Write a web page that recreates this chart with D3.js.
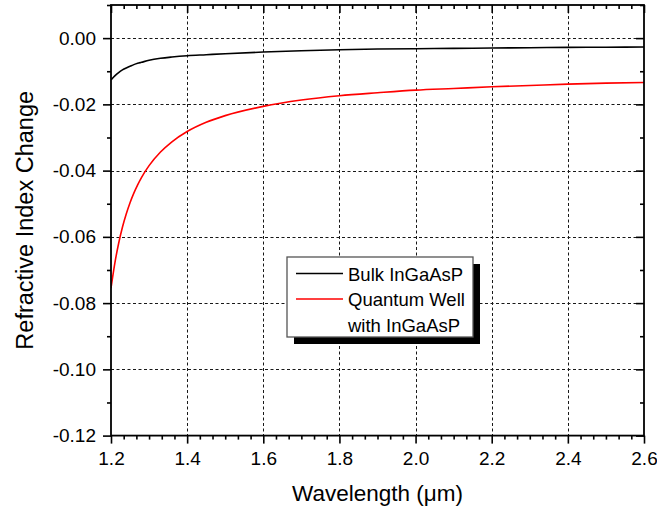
<!DOCTYPE html>
<html>
<head>
<meta charset="utf-8">
<script src="https://cdn.jsdelivr.net/npm/d3@7"></script>
<style>
  html, body { margin: 0; padding: 0; background: #fff; }
  svg { display: block; }
  text { font-family: Arial, "Liberation Sans", Helvetica, sans-serif; fill: #000; }
</style>
</head>
<body>
<svg id="chart" width="657" height="511"></svg>
<script>
// ---- data ----
const wavelength = [1.20, 1.21, 1.22, 1.23, 1.24, 1.25, 1.26, 1.27, 1.28, 1.30, 1.33, 1.36, 1.40, 1.45, 1.50, 1.60, 1.70, 1.80, 1.90, 2.00, 2.10, 2.20, 2.30, 2.40, 2.50, 2.60];
const bulkInGaAsP = [-0.0126, -0.0114, -0.0104, -0.0096, -0.0090, -0.0085, -0.0080, -0.0076, -0.0073, -0.0067, -0.0061, -0.0057, -0.0053, -0.0050, -0.0047, -0.0042, -0.0038, -0.0035, -0.0033, -0.0032, -0.0031, -0.0030, -0.0029, -0.0028, -0.00275, -0.0027];
const quantumWell = [-0.0755, -0.0680, -0.0620, -0.0571, -0.0531, -0.0497, -0.0468, -0.0443, -0.0421, -0.0385, -0.0344, -0.0313, -0.0282, -0.0254, -0.0234, -0.0206, -0.0187, -0.0174, -0.0165, -0.0157, -0.0152, -0.0147, -0.0143, -0.0139, -0.0136, -0.0134];
const xTicks = [1.2, 1.4, 1.6, 1.8, 2.0, 2.2, 2.4, 2.6];
const yTicks = [0.00, -0.02, -0.04, -0.06, -0.08, -0.10, -0.12];
const xDomain = [1.2, 2.6];
const yDomain = [-0.12, 0.01];
const seriesNames = ["Bulk InGaAsP", "Quantum Well", "with InGaAsP"];
const seriesColors = ["#000000", "#ff0000"];
const xTitle = "Wavelength (\u03bcm)";
const yTitle = "Refractive Index Change";

// ---- layout ----
const L = 111, T = 5, R = 644, B = 435.6;
const svg = d3.select("#chart");
const x = d3.scaleLinear().domain(xDomain).range([L, R]);
const y = d3.scaleLinear().domain(yDomain).range([B, T]);

const xMinor = d3.range(0, 43).map(i => xDomain[0] + i * 0.2 / 6)
  .filter(v => !xTicks.some(t => Math.abs(t - v) < 1e-6));
const yMinor = d3.range(0, 14).map(i => -0.12 + i * 0.01)
  .filter(v => !yTicks.some(t => Math.abs(t - v) < 1e-6) && v <= 0.0100001);

// gridlines
const grid = svg.append("g").attr("stroke", "#000").attr("stroke-width", 1)
  .attr("stroke-dasharray", "3,2.5").attr("opacity", 0.9);
grid.selectAll("line.vx").data(xTicks.filter(v => v > xDomain[0] && v < xDomain[1]))
  .join("line").attr("x1", d => Math.round(x(d)) + 0.5).attr("x2", d => Math.round(x(d)) + 0.5)
  .attr("y1", T).attr("y2", B);
grid.selectAll("line.hy").data(yTicks.filter(v => v > yDomain[0] && v < yDomain[1]))
  .join("line").attr("y1", d => Math.round(y(d)) + 0.5).attr("y2", d => Math.round(y(d)) + 0.5)
  .attr("x1", L).attr("x2", R);

// curves
svg.append("clipPath").attr("id", "clip").append("rect")
  .attr("x", L).attr("y", T).attr("width", R - L).attr("height", B - T);
const line = d3.line().x(d => x(d[0])).y(d => y(d[1])).curve(d3.curveMonotoneX);
[bulkInGaAsP, quantumWell].forEach((vals, i) => {
  svg.append("path")
    .attr("clip-path", "url(#clip)")
    .datum(wavelength.map((w, j) => [w, vals[j]]))
    .attr("fill", "none").attr("stroke", seriesColors[i]).attr("stroke-width", 1.6)
    .attr("d", line);
});

// axes
function styleAxis(g) {
  g.select(".domain").remove();
  g.selectAll(".tick line").attr("stroke", "#000").attr("stroke-width", 1.6);
  g.selectAll(".tick text").attr("font-size", 19).attr("fill", "#000");
}
const fmtX = d => d.toFixed(1);
const fmtY = d => d.toFixed(2);

svg.append("g").attr("transform", `translate(0,${B})`)
  .call(d3.axisBottom(x).tickValues(xTicks).tickSize(8).tickPadding(8).tickFormat(fmtX)).call(styleAxis);
svg.append("g").attr("transform", `translate(0,${B})`)
  .call(d3.axisBottom(x).tickValues(xMinor).tickSize(4).tickFormat("")).call(styleAxis);
svg.append("g").attr("transform", `translate(0,${T})`)
  .call(d3.axisTop(x).tickValues(xTicks).tickSize(-8).tickFormat("")).call(styleAxis);
svg.append("g").attr("transform", `translate(0,${T})`)
  .call(d3.axisTop(x).tickValues(xMinor).tickSize(-4).tickFormat("")).call(styleAxis);

svg.append("g").attr("transform", `translate(${L},0)`)
  .call(d3.axisLeft(y).tickValues(yTicks).tickSize(8).tickPadding(7).tickFormat(fmtY)).call(styleAxis);
svg.append("g").attr("transform", `translate(${L},0)`)
  .call(d3.axisLeft(y).tickValues(yMinor).tickSize(4).tickFormat("")).call(styleAxis);
svg.append("g").attr("transform", `translate(${R},0)`)
  .call(d3.axisRight(y).tickValues(yTicks).tickSize(-8).tickFormat("")).call(styleAxis);
svg.append("g").attr("transform", `translate(${R},0)`)
  .call(d3.axisRight(y).tickValues(yMinor).tickSize(-4).tickFormat("")).call(styleAxis);

// frame
svg.append("rect").attr("x", L).attr("y", T).attr("width", R - L).attr("height", B - T)
  .attr("fill", "none").attr("stroke", "#000").attr("stroke-width", 1.8);

// titles
svg.append("text").attr("x", (L + R) / 2).attr("y", 501).attr("text-anchor", "middle")
  .attr("font-size", 22.5).text(xTitle);
svg.append("text").attr("transform", `translate(33,${(T + B) / 2}) rotate(-90)`)
  .attr("text-anchor", "middle").attr("font-size", 23.5).text(yTitle);

// legend
const lg = svg.append("g").attr("transform", "translate(287,257)");
lg.append("rect").attr("x", 7).attr("y", 7).attr("width", 186).attr("height", 80).attr("fill", "#000");
lg.append("rect").attr("x", 0).attr("y", 0).attr("width", 186).attr("height", 80)
  .attr("fill", "#fff").attr("stroke", "#555").attr("stroke-width", 1.3);
[0, 1].forEach(i => {
  const yy = 16.5 + i * 25.5;
  lg.append("line").attr("x1", 9).attr("x2", 56).attr("y1", yy).attr("y2", yy)
    .attr("stroke", seriesColors[i]).attr("stroke-width", 1.6);
});
seriesNames.forEach((s, i) => {
  lg.append("text").attr("x", 61).attr("y", 23.5 + i * 25.5).attr("font-size", 18.5).text(s);
});
</script>
</body>
</html>
